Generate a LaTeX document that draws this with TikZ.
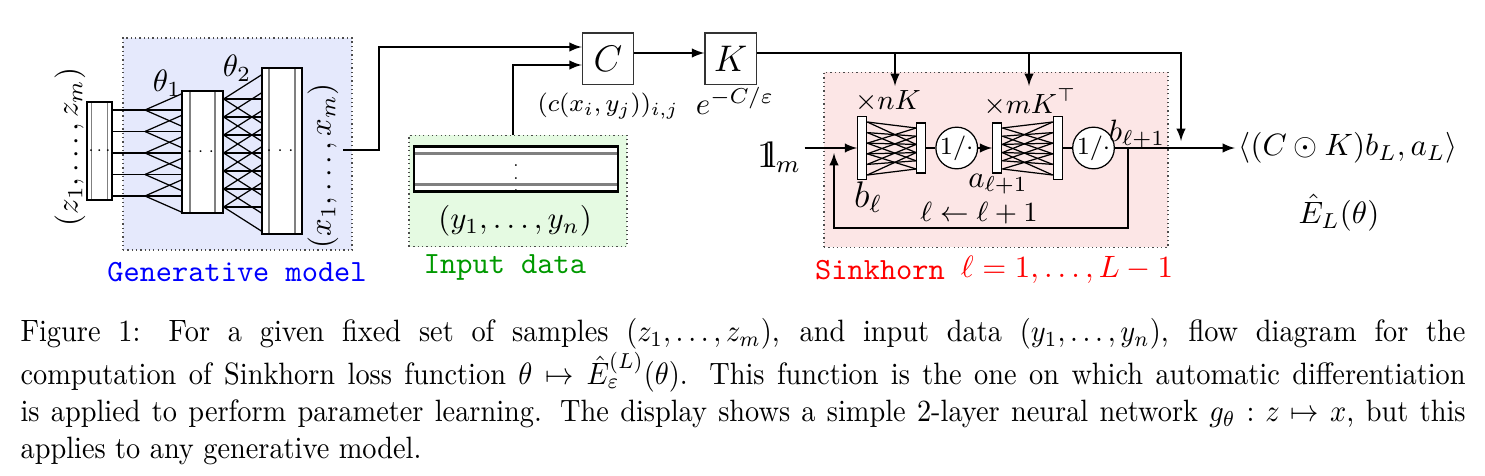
\documentclass[tikz,border=0pt]{standalone}
\usepackage{amsmath,amssymb}
\usepackage{graphicx}
\usepackage{tikz}
\usetikzlibrary{arrows,positioning}

\definecolor{genblue}{RGB}{229,233,252}
\definecolor{datagreen}{RGB}{229,250,226}
\definecolor{sinkred}{RGB}{252,230,230}
\newcommand{\onevec}{\mathrm{1\mkern-4.5mu l}}

\begin{document}
\begin{tikzpicture}[
    x=0.324pt, y=-0.324pt,
    >=latex,
    areabox/.style={draw=black!70, densely dotted, inner sep=0pt},
    nnlayer/.style={draw, fill=white, inner sep=0pt, path picture={
        \draw[gray] ([xshift=#1]path picture bounding box.north west) -- ([xshift=#1]path picture bounding box.south west);
        \draw[gray] ([xshift=-#1]path picture bounding box.north east) -- ([xshift=-#1]path picture bounding box.south east);}},
    datamat/.style={draw, thick, fill=white, inner sep=0pt, path picture={
        \draw[gray] ([yshift=-2.3pt]path picture bounding box.north west) -- ([yshift=-2.3pt]path picture bounding box.north east);
        \draw[gray] ([yshift=2.3pt]path picture bounding box.south west) -- ([yshift=2.3pt]path picture bounding box.south east);}},
    opbox/.style={draw=black!80, fill=white, minimum size=16.6pt, inner sep=0pt},
    sklayer/.style={draw, fill=white, minimum width=2.9pt, inner sep=0pt},
    recip/.style={circle, draw, fill=white, minimum size=11.7pt, inner sep=0pt, font=\footnotesize}
]
\useasboundingbox (0,0) rectangle (1485,476);

% shaded areas
\node[areabox, fill=genblue, minimum width=74.2pt, minimum height=68.7pt] (gen) at (237.5,144) {};
\node[areabox, fill=datagreen, minimum width=70.6pt, minimum height=36pt] (data) at (518,191) {};
\node[areabox, fill=sinkred, minimum width=111.5pt, minimum height=56.7pt] (sink) at (996,159.7) {};
\node[font=\ttfamily, text=blue] at (237,272) {Generative model};
\node[font=\ttfamily, text=green!60!black] at (505,267) {Input data};
\node[font=\ttfamily, text=red] at (880,270) {Sinkhorn};
\node[text=red] at (1067,270) {$\ell=1,\ldots,L-1$};

% generative network
\node[nnlayer=1.5pt, minimum width=8.1pt, minimum height=31.8pt] (zin) at (99.5,151) {\tiny$\cdot\!\cdot\!\cdot$};
\node[nnlayer=2.6pt, minimum width=13.3pt, minimum height=39.5pt] (hid) at (202.5,152) {\tiny$\cdots$};
\node[nnlayer=2.3pt, minimum width=13pt, minimum height=53.8pt] (xout) at (282,151) {\tiny$\cdots$};
\foreach \y in {110,131.5,153,174.5,196} {
    \draw (zin.east |- 0,\y) -- (145,\y);
    \foreach \d in {-16,0,16}
        \draw (145,\y) -- (hid.west |- 0,\y+\d);
}
\foreach \k [evaluate=\k as \y using 99+18*\k] in {0,...,6}
    \foreach \d in {-24,0,24}
        \draw (hid.east |- 0,\y) -- (xout.west |- 0,\y+\d);
\node[rotate=90] (zlab) at (70,147) {$(z_1,\ldots,z_m)$};
\node[rotate=90] (xlab) at (323,166) {$(x_1,\ldots,x_m)$};
\node (th1) at (167,83) {$\theta_1$};
\node (th2) at (237,68) {$\theta_2$};

% input data
\node[datamat, minimum width=66.1pt, minimum height=13.1pt] (ymat) at (516,169) {\tiny$\vdots$};
\node (ylab) at (515,221) {$(y_1,\ldots,y_n)$};

% cost and kernel
\node[opbox] (C) at (608,58.5) {\large$C$};
\node[opbox, right=22.7pt of C] (K) {\large$K$};
\node[font=\footnotesize] (clab) at (608,106) {$(c(x_i,y_j))_{i,j}$};
\node (klab) at (735,101) {$e^{-C/\varepsilon}$};

\coordinate (gout) at (343,150);
\draw[->] (gout) -- (379,150) |- (C.west |- 0,47);
\draw[->] ([xshift=-1.6pt]data.north) |- (C.west |- 0,65);
\draw[->] (C.east |- 0,53) -- (K.west |- 0,53);

% sinkhorn iterations
\node[sklayer, minimum height=20.3pt] (bl) at (862.2,148) {};
\node[sklayer, minimum height=16.2pt] (o1) at (921.2,148) {};
\node[recip] (r1) at (956.7,148) {$1/\cdot$};
\node[sklayer, minimum height=16.2pt] (al) at (997.3,148) {};
\node[sklayer, minimum height=20.5pt] (o2) at (1057.8,148) {};
\node[recip] (r2) at (1093.5,148) {$1/\cdot$};
\foreach \i in {0,...,5}
    \foreach \d in {-2,0,2} {
        \pgfmathtruncatemacro\j{\i+\d}
        \ifnum\j>-1 \ifnum\j<6
            \draw (bl.east |- 0,122+10.6*\i) -- (o1.west |- 0,128+8.2*\j);
            \draw (al.east |- 0,128+8.2*\j) -- (o2.west |- 0,122+10.6*\i);
        \fi\fi
    }
\node[font=\small] (nk) at (888,101) {$\times nK$};
\node[font=\small] (mk) at (1030,102) {$\times mK^\top$};
\node[font=\large] (bllab) at (868,197) {$b_\ell$};
\node (allab) at (998,184) {$a_{\ell+1}$};
\node (bnlab) at (1137,134) {$b_{\ell+1}$};
\node[font=\small] (inc) at (979,213) {$\ell\leftarrow\ell+1$};

\node[font=\large, inner sep=1pt] (one) at (779,157) {$\onevec_m$};
\draw[->] (one.east |- bl.west) -- (bl.west);
\draw (o1) -- (r1);
\draw[->] (r1) -- (al);
\draw (o2) -- (r2);

% kernel feeds
\coordinate (kn) at (895,86);
\coordinate (km) at (1029,86);
\coordinate (joint) at (1181,141);
\draw[->] (K.east |- 0,53) -| (joint);
\draw[->] (kn |- 0,53) -- (kn);
\draw[->] (km |- 0,53) -- (km);

% output and loop
\node[anchor=west, inner sep=1pt] (res) at (1235,148) {$\langle (C\odot K)b_L, a_L\rangle$};
\node (loss) at (1339,213) {$\hat{E}_L(\theta)$};
\draw[->] (r2) -- (res);
\coordinate (lp) at (1128,148);
\draw[->] (lp) |- (834,228) -- (834,153);

% caption
\node[anchor=north west, inner sep=0pt] (cap) at (20,318) {\scalebox{0.918}[1]{\parbox{510pt}{%
Figure 1:\quad For a given fixed set of samples $(z_1,\ldots,z_m)$, and input data $(y_1,\ldots,y_n)$, flow diagram for the\linebreak
computation of Sinkhorn loss function $\theta\mapsto\hat{E}^{(L)}_\varepsilon(\theta)$. This function is the one on which automatic differentiation\linebreak
is applied to perform parameter learning. The display shows a simple 2-layer neural network $g_\theta : z\mapsto x$, but this\linebreak
applies to any generative model.}}};
\end{tikzpicture}
\end{document}
